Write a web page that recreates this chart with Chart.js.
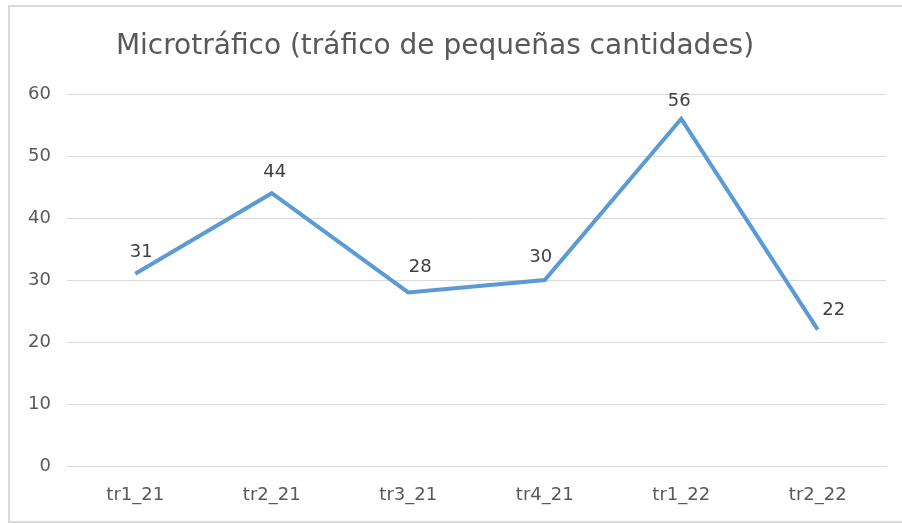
<!DOCTYPE html>
<html>
<head>
<meta charset="utf-8">
<script src="https://cdn.jsdelivr.net/npm/chart.js@4/dist/chart.umd.min.js"></script>
<style>
  html, body { margin: 0; padding: 0; background: #fff; }
  #frame {
    position: absolute; left: 8px; top: 5px; width: 910px; height: 514px;
    border: 2px solid #d9d9d9;
  }
  #wrap { position: absolute; left: 0; top: 0; width: 902px; height: 523px; }
</style>
</head>
<body>
<div id="frame"></div>
<div id="wrap"><canvas id="microChart"></canvas></div>
<script>
// data
const chartTitle = 'Microtráfico (tráfico de pequeñas cantidades)';
const quarters = ["tr1_21", "tr2_21", "tr3_21", "tr4_21", "tr1_22", "tr2_22"];
const casos = [31, 44, 28, 30, 56, 22];
const yTicks = [0, 10, 20, 30, 40, 50, 60];

// label nudges (px) so numbers sit like in the original
const labelShift = [[6, -21], [3, -21], [12, -25], [-4, -23], [-2, -17], [16, -19]];

const pointLabels = {
    id: 'pointLabels',
    afterDatasetsDraw(chart) {
        const ctx = chart.ctx;
        const meta = chart.getDatasetMeta(0);
        ctx.save();
        ctx.font = '18px "DejaVu Sans"';
        ctx.fillStyle = '#404040';
        ctx.textAlign = 'center';
        ctx.textBaseline = 'middle';
        meta.data.forEach((pt, i) => {
            const s = labelShift[i];
            ctx.fillText(casos[i], pt.x + s[0], pt.y + s[1]);
        });
        ctx.restore();
    }
};

// title drawn by hand, the excel one sits a bit left of centre
const titlePlugin = {
    id: 'titlePlugin',
    afterDraw(chart) {
        const ctx = chart.ctx;
        ctx.save();
        ctx.font = '28px "DejaVu Sans"';
        ctx.fillStyle = '#595959';
        ctx.textAlign = 'center';
        ctx.textBaseline = 'middle';
        ctx.fillText(chartTitle, 435, 47);
        ctx.restore();
    }
};

function createChart() {
    const ctx = document.getElementById('microChart');

    new Chart(ctx, {
        type: 'line',
        data: {
            labels: quarters,
            datasets: [{
                data: casos,
                borderColor: '#5b9bd5',
                borderWidth: 4,
                pointRadius: 0,
                tension: 0,
                fill: false
            }]
        },
        options: {
            responsive: true,
            maintainAspectRatio: false,
            animation: false,
            layout: { padding: { left: 0, right: 16, top: 94, bottom: 0 } },
            scales: {
                x: {
                    offset: true,
                    grid: { display: false, drawTicks: false },
                    border: { display: true, color: '#d9d9d9', width: 1 },
                    ticks: { color: '#595959', font: { family: 'DejaVu Sans', size: 18 }, padding: 19 },
                    afterFit(scale) { scale.height = 57; }
                },
                y: {
                    min: 0,
                    max: 60,
                    afterBuildTicks(scale) { scale.ticks = yTicks.map(v => ({ value: v })); },
                    grid: { color: '#d9d9d9', lineWidth: 1, drawTicks: false },
                    border: { display: false },
                    ticks: { color: '#595959', font: { family: 'DejaVu Sans', size: 18 }, padding: 16 },
                    afterFit(scale) { scale.width = 67; }
                }
            },
            plugins: {
                legend: { display: false },
                tooltip: { enabled: false },
                title: { display: false }
            }
        },
        plugins: [pointLabels, titlePlugin]
    });
}

document.addEventListener('DOMContentLoaded', () => {
    createChart();
});
</script>
</body>
</html>
